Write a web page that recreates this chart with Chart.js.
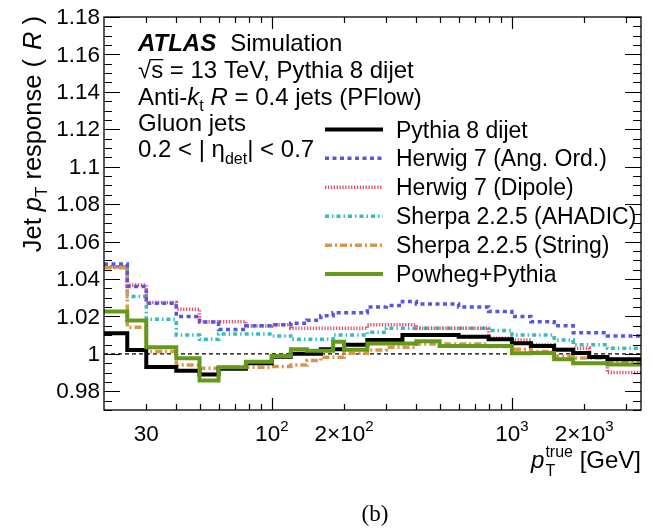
<!DOCTYPE html>
<html>
<head>
<meta charset="utf-8">
<script src="https://cdn.jsdelivr.net/npm/chart.js@4.4.1/dist/chart.umd.min.js"></script>
<style>
html, body { margin: 0; padding: 0; background: #fff; }
#wrap { width: 653px; height: 528px; }
</style>
</head>
<body>
<div id="wrap"><canvas id="respChart" width="653" height="528"></canvas></div>
<script>
// bin edges in GeV (pT true) and the response per bin
const binEdges = [20, 25, 30, 40, 50, 60, 78, 100, 120, 140, 160, 180, 200, 250, 300, 350, 400, 500, 600, 800, 1000, 1200, 1500, 1800, 2100, 2500, 3450];

const pythiaDijet = [1.011, 1.002, 0.993, 0.991, 0.989, 0.992, 0.995, 0.9985, 1.000, 1.000, 1.0025, 1.0025, 1.0048, 1.0074, 1.0074, 1.0101, 1.0101, 1.0101, 1.0092, 1.0078, 1.0057, 1.0042, 1.0022, 1.0005, 0.9983, 0.9971];
const herwigAngOrd = [1.048, 1.036, 1.027, 1.020, 1.017, 1.013, 1.015, 1.0155, 1.0164, 1.018, 1.0204, 1.022, 1.022, 1.025, 1.0258, 1.028, 1.0267, 1.0267, 1.025, 1.0226, 1.020, 1.0172, 1.015, 1.0113, 1.0113, 1.0096];
const herwigDipole = [1.0466, 1.0368, 1.0274, 1.0238, 1.0172, 1.0172, 1.0149, 1.0155, 1.0137, 1.0137, 1.0137, 1.0137, 1.0137, 1.0155, 1.0155, 1.0155, 1.0137, 1.0137, 1.0137, 1.0083, 1.0074, 1.0048, 1.0025, 1.003, 0.998, 0.990];
const sherpaAhadic = [1.0466, 1.0306, 1.0185, 1.0101, 1.0078, 1.0106, 1.0106, 1.0096, 1.0078, 1.0078, 1.0078, 1.0101, 1.0101, 1.0116, 1.0137, 1.0137, 1.0137, 1.0137, 1.0137, 1.0125, 1.0101, 1.0101, 1.0074, 1.0048, 1.0048, 1.003];
const sherpaString = [1.046, 1.0142, 1.0012, 0.994, 0.9923, 0.9928, 0.9928, 0.9932, 0.994, 0.9964, 0.9982, 0.9982, 1.0003, 1.002, 1.0035, 1.0035, 1.0053, 1.0053, 1.0053, 1.0039, 1.0025, 1.0012, 0.9989, 0.9978, 0.9978, 0.9958];
const powhegPythia = [1.0226, 1.0178, 1.0035, 0.9977, 0.9857, 0.9928, 0.9958, 0.9989, 1.0025, 1.0017, 1.0017, 1.0065, 1.0022, 1.0055, 1.0055, 1.0055, 1.0068, 1.0042, 1.0042, 1.0042, 1.0003, 1.0005, 0.9971, 0.995, 0.995, 0.9943];

const xMin = 20, xMax = 3450;
const yMin = 0.97, yMax = 1.18;
const xTickValues = [30, 100, 200, 1000, 2000];
const xTickLabels = [['30', ''], ['10', '2'], ['2\u00d710', '2'], ['10', '3'], ['2\u00d710', '3']];
const xMinorTicks = [30, 40, 50, 60, 70, 80, 90, 200, 300, 400, 500, 600, 700, 800, 900, 2000, 3000];
const xMajorTicks = [100, 1000];
const yTickValues = [0.98, 1.0, 1.02, 1.04, 1.06, 1.08, 1.1, 1.12, 1.14, 1.16, 1.18];

const SANS = "'Liberation Sans', Arial, sans-serif";

// histogram -> stepped points (one point per left edge, last edge repeats last value)
function toSteps(vals) {
    return binEdges.map((e, i) => ({ x: e, y: vals[Math.min(i, vals.length - 1)] }));
}

function font(p, size) {
    return (p.style ? p.style + ' ' : '') + (p.size || size) + 'px ' + SANS;
}

function partsWidth(ctx, parts, size) {
    let w = 0;
    parts.forEach(p => {
        ctx.font = font(p, size);
        w += ctx.measureText(p.t).width + (p.kern || 0);
    });
    return w;
}

function drawParts(ctx, x, y, parts, size) {
    let cx = x;
    parts.forEach(p => {
        ctx.font = font(p, size);
        ctx.fillText(p.t, cx, y + (p.dy || 0));
        cx += ctx.measureText(p.t).width + (p.kern || 0);
    });
    return cx;
}

const decorations = {
    id: 'decorations',
    afterDatasetsDraw(chart) {
        const ctx = chart.ctx;
        const a = chart.chartArea;
        const xs = chart.scales.x, ys = chart.scales.y;
        ctx.save();
        ctx.fillStyle = '#000';
        ctx.strokeStyle = '#000';

        // frame
        ctx.lineWidth = 1.3;
        ctx.strokeRect(a.left, a.top, a.right - a.left, a.bottom - a.top);

        // x ticks (inside, bottom and top)
        ctx.lineWidth = 1.2;
        ctx.beginPath();
        xMinorTicks.concat(xMajorTicks).forEach(v => {
            const px = Math.round(xs.getPixelForValue(v)) + 0.5;
            const len = xMajorTicks.includes(v) ? 12 : 6;
            ctx.moveTo(px, a.bottom); ctx.lineTo(px, a.bottom - len);
            ctx.moveTo(px, a.top); ctx.lineTo(px, a.top + len);
        });
        // y ticks (inside, left and right)
        for (let k = 0; k <= 42; k++) {
            const v = yMin + k * 0.005;
            const py = Math.round(ys.getPixelForValue(v)) + 0.5;
            const major = (k - 2) % 4 === 0;
            const len = major ? 16 : 8;
            ctx.moveTo(a.left, py); ctx.lineTo(a.left + len, py);
            ctx.moveTo(a.right, py); ctx.lineTo(a.right - len, py);
        }
        ctx.stroke();

        // y tick labels
        ctx.textAlign = 'right';
        ctx.textBaseline = 'middle';
        ctx.font = '22.5px ' + SANS;
        yTickValues.forEach(v => {
            ctx.fillText(String(+v.toFixed(2)), a.left - 4, ys.getPixelForValue(v) + 1);
        });

        // x tick labels with superscripts
        ctx.textAlign = 'left';
        ctx.textBaseline = 'alphabetic';
        xTickValues.forEach((v, i) => {
            const lab = xTickLabels[i];
            const parts = [{ t: lab[0] }, { t: lab[1], size: 15, dy: -10 }];
            const w = partsWidth(ctx, parts, 22.5);
            drawParts(ctx, xs.getPixelForValue(v) - w / 2, 441, parts, 22.5);
        });

        // x title: p_T^true [GeV]
        {
            const size = 24;
            ctx.font = 'italic ' + size + 'px ' + SANS;
            const pw = ctx.measureText('p').width;
            ctx.font = '16px ' + SANS;
            const supW = ctx.measureText('true').width;
            ctx.font = size + 'px ' + SANS;
            const unitW = ctx.measureText(' [GeV]').width;
            const total = pw + 1 + supW + unitW;
            let x = a.right - total, y = 468;
            ctx.font = 'italic ' + size + 'px ' + SANS;
            ctx.fillText('p', x, y);
            ctx.font = '16px ' + SANS;
            ctx.fillText('true', x + pw + 1, y - 11);
            ctx.fillText('T', x + pw + 1, y + 8);
            ctx.font = size + 'px ' + SANS;
            ctx.fillText(' [GeV]', x + pw + 1 + supW, y);
        }

        // y title rotated
        {
            const parts = [{ t: 'Jet ' }, { t: 'p', style: 'italic' }, { t: 'T', size: 17, dy: 6 },
                { t: ' response ( ', kern: 2 }, { t: 'R', style: 'italic' }, { t: ' )', kern: 0 }];
            const w = partsWidth(ctx, parts, 25.5);
            ctx.save();
            ctx.translate(41, a.top - 1);
            ctx.rotate(-Math.PI / 2);
            drawParts(ctx, -w, 0, parts, 25.5);
            ctx.restore();
        }

        // label block
        {
            const x0 = 138, size = 24;
            ctx.font = 'bold italic ' + size + 'px ' + SANS;
            ctx.fillText('ATLAS', x0, 51);
            const aw = ctx.measureText('ATLAS').width;
            ctx.font = size + 'px ' + SANS;
            ctx.fillText('Simulation', x0 + aw + 14, 51);

            // sqrt(s) with overline
            ctx.font = size + 'px ' + SANS;
            const rw = ctx.measureText('\u221a').width;
            const sw = ctx.measureText('s').width;
            ctx.fillText('\u221a', x0, 78);
            ctx.fillText('s', x0 + rw, 78);
            ctx.fillRect(x0 + rw - 1, 78 - 19, sw + 1, 1.3);
            ctx.fillText(' = 13 TeV, Pythia 8 dijet', x0 + rw + sw, 78);

            drawParts(ctx, x0, 105, [{ t: 'Anti-' }, { t: 'k', style: 'italic' }, { t: 't', size: 16, dy: 6 },
                { t: ' ' }, { t: 'R', style: 'italic' }, { t: ' = 0.4 jets (PFlow)' }], size);
            drawParts(ctx, x0, 131, [{ t: 'Gluon jets' }], size);
            drawParts(ctx, x0, 157, [{ t: '0.2 < | ' }, { t: '\u03b7' }, { t: 'det', size: 16, dy: 7 },
                { t: '| < 0.7' }], size);
        }

        // legend
        {
            const rowY = [129.5, 158.3, 187.2, 216.2, 245.2, 274];
            const sets = [0, 1, 2, 3, 4, 5].map(i => chart.data.datasets[i]);
            sets.forEach((ds, i) => {
                ctx.save();
                ctx.strokeStyle = ds.borderColor;
                ctx.lineWidth = ds.borderWidth;
                ctx.setLineDash(ds.borderDash || []);
                ctx.beginPath();
                ctx.moveTo(325, rowY[i]);
                ctx.lineTo(383, rowY[i]);
                ctx.stroke();
                ctx.restore();
                ctx.font = '23px ' + SANS;
                ctx.fillText(ds.label, 396, rowY[i] + 8);
            });
        }

        // panel tag
        ctx.textAlign = 'center';
        ctx.font = "23px 'Liberation Serif', 'Times New Roman', serif";
        ctx.fillText('(b)', 375, 521);
        ctx.restore();
    }
};

function lineSet(label, vals, color, width, dash, order) {
    return {
        label: label,
        data: toSteps(vals),
        borderColor: color,
        borderWidth: width,
        borderDash: dash,
        borderCapStyle: 'butt',
        stepped: true,
        pointRadius: 0,
        fill: false,
        order: order
    };
}

new Chart(document.getElementById('respChart'), {
    type: 'line',
    data: {
        datasets: [
            lineSet('Pythia 8 dijet', pythiaDijet, '#000000', 4, [], 2),
            lineSet('Herwig 7 (Ang. Ord.)', herwigAngOrd, '#5656e0', 3.5, [4, 3.5], 3),
            lineSet('Herwig 7 (Dipole)', herwigDipole, '#e3506e', 3.5, [1.3, 1.6], 5),
            lineSet('Sherpa 2.2.5 (AHADIC)', sherpaAhadic, '#33bdbd', 3.5, [4, 3, 1.5, 3], 6),
            lineSet('Sherpa 2.2.5 (String)', sherpaString, '#d9954a', 3.5, [7, 3, 2, 3], 4),
            lineSet('Powheg+Pythia', powhegPythia, '#66991a', 4, [], 1),
            {
                label: 'unity',
                data: [{ x: xMin, y: 1 }, { x: xMax, y: 1 }],
                borderColor: '#000000',
                borderWidth: 1.2,
                borderDash: [4, 3],
                pointRadius: 0,
                fill: false,
                order: 10
            }
        ]
    },
    options: {
        responsive: false,
        devicePixelRatio: 1,
        animation: false,
        events: [],
        layout: { padding: { top: 17, right: 12, left: 0, bottom: 0 } },
        plugins: { legend: { display: false }, tooltip: { enabled: false } },
        scales: {
            x: {
                type: 'logarithmic', min: xMin, max: xMax,
                grid: { display: false }, border: { display: false },
                ticks: { display: false },
                afterFit(s) { s.height = 118; }
            },
            y: {
                type: 'linear', min: yMin, max: yMax,
                grid: { display: false }, border: { display: false },
                ticks: { display: false },
                afterFit(s) { s.width = 104; }
            }
        }
    },
    plugins: [decorations]
});
</script>
</body>
</html>
